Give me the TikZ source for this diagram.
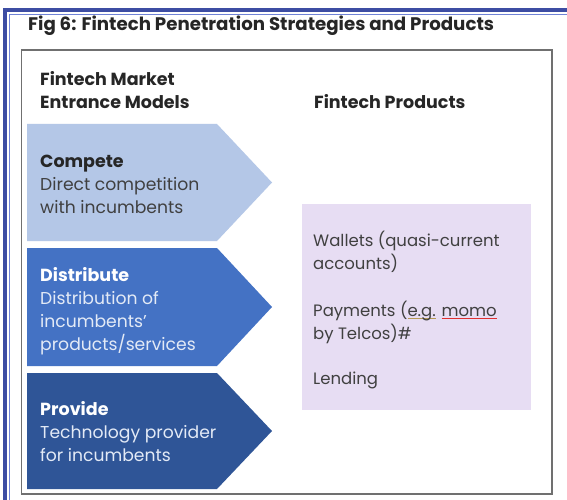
\documentclass[tikz,border=0pt]{standalone}
\usepackage{fontspec}
\setmainfont{Poppins}
\definecolor{frameblue}{HTML}{3D4DA3}
\definecolor{framelight}{HTML}{7083D6}
\definecolor{boxgray}{HTML}{707070}
\definecolor{competec}{HTML}{B4C7E7}
\definecolor{distc}{HTML}{4472C4}
\definecolor{providec}{HTML}{2F5597}
\definecolor{purplec}{HTML}{E7DDF3}
\definecolor{darktext}{HTML}{262626}
\definecolor{bodytext}{HTML}{404040}
\definecolor{lighttext}{HTML}{E3EAF6}
\definecolor{egc}{HTML}{B79A55}
\definecolor{spellc}{HTML}{E03030}
\newlength\ulwidth
\newcommand\colunder[2]{\settowidth\ulwidth{#2}\rlap{\color{#1}\rule[-3pt]{\ulwidth}{0.8pt}}#2}
\tikzset{
  ttl/.style={anchor=base west, inner sep=0pt, font=\fontsize{18.2}{20}\selectfont\bfseries, text=darktext},
  hdr/.style={anchor=base west, inner sep=0pt, font=\fontsize{17.5}{20}\selectfont\bfseries, text=darktext},
  lead/.style={anchor=base west, inner sep=0pt, font=\fontsize{17.5}{20}\selectfont\bfseries},
  body/.style={anchor=base west, inner sep=0pt, font=\fontsize{17.2}{20}\selectfont},
  prod/.style={anchor=base west, inner sep=0pt, font=\fontsize{16.5}{20}\selectfont, text=bodytext},
}
\begin{document}
\begin{tikzpicture}[x=1pt,y=-1pt]
\useasboundingbox (0,0) rectangle (567,500);
\fill[white] (0,0) rectangle (567,500);
% outer frame
\fill[frameblue] (3,8) rectangle (567,12);
\fill[frameblue] (3,8) rectangle (7,500);
\draw[framelight, line width=1pt] (567,14.5) -- (9.5,14.5) -- (9.5,500);
% title
\node[ttl] (title) at (28,31) {Fig 6: Fintech Penetration Strategies and Products};
% inner box
\draw[boxgray, line width=1.6pt] (21.5,50) rectangle (552,494);
% headers
\node[hdr] (h1) at (40,86) {Fintech Market};
\node[hdr] (h2) at (40,109) {Entrance Models};
\node[hdr] (h3) at (314,109) {Fintech Products};
% chevrons
\fill[competec] (27,124) -- (217,124) -- (272,182.5) -- (217,241) -- (27,241) -- cycle;
\fill[distc] (27,248) -- (217,248) -- (272,307) -- (217,366) -- (27,366) -- cycle;
\fill[providec] (27,373) -- (217,373) -- (272,431) -- (217,489) -- (27,489) -- cycle;
% compete text
\node[lead, text=darktext] (c1) at (40,167) {Compete};
\node[body, text=bodytext] (c2) at (40,190) {Direct competition};
\node[body, text=bodytext] (c3) at (40,213) {with incumbents};
% distribute text
\node[lead, text=white] (d1) at (40,281) {Distribute};
\node[body, text=lighttext] (d2) at (40,304) {Distribution of};
\node[body, text=lighttext] (d3) at (40,327) {incumbents'};
\node[body, text=lighttext] (d4) at (40,350) {products/services};
% provide text
\node[lead, text=white] (p1) at (40,415) {Provide};
\node[body, text=lighttext] (p2) at (40,438) {Technology provider};
\node[body, text=lighttext] (p3) at (40,461) {for incumbents};
% products box
\fill[purplec] (302,204) rectangle (531,410);
\node[prod] (w1) at (313,246) {Wallets (quasi-current};
\node[prod] (w2) at (313,269) {accounts)};
\node[prod] (m1) at (313,316) {Payments (\colunder{egc}{e.g.} \colunder{spellc}{momo}};
\node[prod] (m2) at (313,339) {by Telcos)\#};
\node[prod] (l1) at (313,384) {Lending};
\end{tikzpicture}
\end{document}
